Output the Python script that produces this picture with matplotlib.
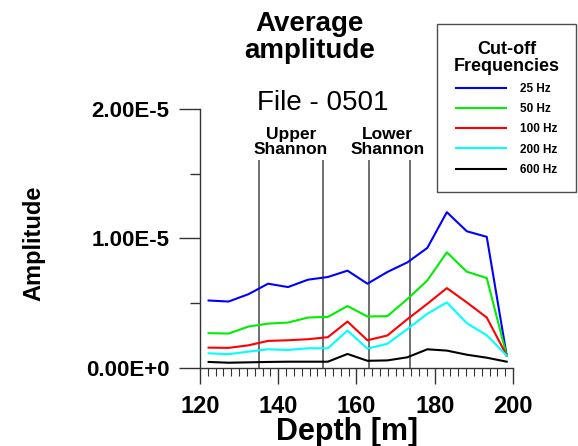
import matplotlib.pyplot as plt
from matplotlib.ticker import FixedLocator, MultipleLocator

plt.rcParams["font.family"] = ["Liberation Sans", "DejaVu Sans"]

depth = [122.2, 127.3, 132.4, 137.4, 142.5, 147.6, 152.7, 157.7,
         162.8, 167.9, 173.0, 178.1, 183.1, 188.2, 193.3, 198.4]

# amplitudes in units of 1e-6
amp_25 = [5.19, 5.11, 5.68, 6.49, 6.23, 6.80, 7.01, 7.50,
          6.49, 7.40, 8.14, 9.26, 12.03, 10.55, 10.12, 0.92]
amp_50 = [2.66, 2.63, 3.17, 3.40, 3.48, 3.87, 3.92, 4.76,
          3.95, 3.98, 5.30, 6.74, 8.92, 7.42, 6.93, 0.92]
amp_100 = [1.54, 1.52, 1.72, 2.06, 2.11, 2.19, 2.35, 3.56,
           2.11, 2.48, 3.74, 4.93, 6.15, 5.04, 3.87, 0.92]
amp_200 = [1.10, 1.03, 1.23, 1.41, 1.36, 1.49, 1.49, 2.86,
           1.46, 1.84, 2.97, 4.16, 5.04, 3.43, 2.50, 0.92]
amp_600 = [0.43, 0.37, 0.40, 0.43, 0.45, 0.45, 0.45, 1.05,
           0.52, 0.55, 0.79, 1.41, 1.31, 0.99, 0.76, 0.45]

series = [
    ("25 Hz", amp_25, "#0000ff"),
    ("50 Hz", amp_50, "#00ee00"),
    ("100 Hz", amp_100, "#ff0000"),
    ("200 Hz", amp_200, "#00ffff"),
    ("600 Hz", amp_600, "#000000"),
]

markers = [135.1, 151.5, 163.2, 173.7]
zones = [("Upper\nShannon", 143.3), ("Lower\nShannon", 168.0)]

y_ticks = [0.0, 1.0e-5, 2.0e-5]
y_tick_labels = ["0.00E+0", "1.00E-5", "2.00E-5"]
x_ticks = [120, 140, 160, 180, 200]

fig = plt.figure(figsize=(5.78, 4.46), dpi=100)
ax = fig.add_axes([0.346, 0.176, 0.5415, 0.579])

for name, vals, color in series:
    ax.plot(depth, [v * 1e-6 for v in vals], color=color, linewidth=1.5, label=name)

for xm in markers:
    ax.plot([xm, xm], [0, 1.6e-5], color="#6e6e6e", linewidth=1.4, zorder=1)

for label, xc in zones:
    ax.text(xc, 1.75e-5, label, ha="center", va="center", fontsize=12.5,
            fontweight="bold", linespacing=1.0)

ax.set_xlim(120, 200)
ax.set_ylim(0, 2.0e-5)
ax.spines["top"].set_visible(False)
ax.spines["right"].set_visible(False)
for sp in ("left", "bottom"):
    ax.spines[sp].set_color("#333333")
    ax.spines[sp].set_linewidth(1.0)

ax.yaxis.set_major_locator(FixedLocator(y_ticks))
ax.set_yticklabels(y_tick_labels, fontsize=16, fontweight="bold")
ax.yaxis.set_minor_locator(FixedLocator([0.5e-5, 1.5e-5]))
ax.xaxis.set_major_locator(FixedLocator(x_ticks))
ax.set_xticklabels([str(t) for t in x_ticks], fontsize=17, fontweight="bold")
ax.xaxis.set_minor_locator(MultipleLocator(2))
ax.tick_params(axis="y", which="major", length=15, width=1, pad=7, color="#333333")
ax.tick_params(axis="y", which="minor", length=7, width=1, color="#333333")
ax.tick_params(axis="x", which="major", length=11.5, width=1, pad=8, color="#333333")
ax.tick_params(axis="x", which="minor", length=6, width=0.8, color="#333333")

fig.text(0.536, 0.915, "Average\namplitude", ha="center", va="center",
         fontsize=20, fontweight="bold", linespacing=1.05)
fig.text(0.559, 0.768, "File - 0501", ha="center", va="center", fontsize=20)
fig.text(0.6, 0.032, "Depth [m]", ha="center", va="center",
         fontsize=22, fontweight="bold")
fig.text(0.058, 0.455, "Amplitude", ha="center", va="center", rotation=90,
         fontsize=17, fontweight="bold")

leg = fig.legend(loc="upper left", bbox_to_anchor=(437 / 578, 1 - 24 / 446),
                 title="Cut-off\nFrequencies", fontsize=8.5, frameon=True,
                 fancybox=False, handlelength=4.2, handletextpad=1.2,
                 labelspacing=0.7, borderpad=1.4, borderaxespad=0)
leg.get_title().set_fontweight("bold")
leg.get_title().set_fontsize(13)
leg.get_title().set_linespacing(1.0)
leg.get_title().set_multialignment("center")
for txt in leg.get_texts():
    txt.set_fontweight("bold")
leg.get_frame().set_edgecolor("#222222")
leg.get_frame().set_linewidth(1.0)

fig.savefig("out.png", dpi=100)
